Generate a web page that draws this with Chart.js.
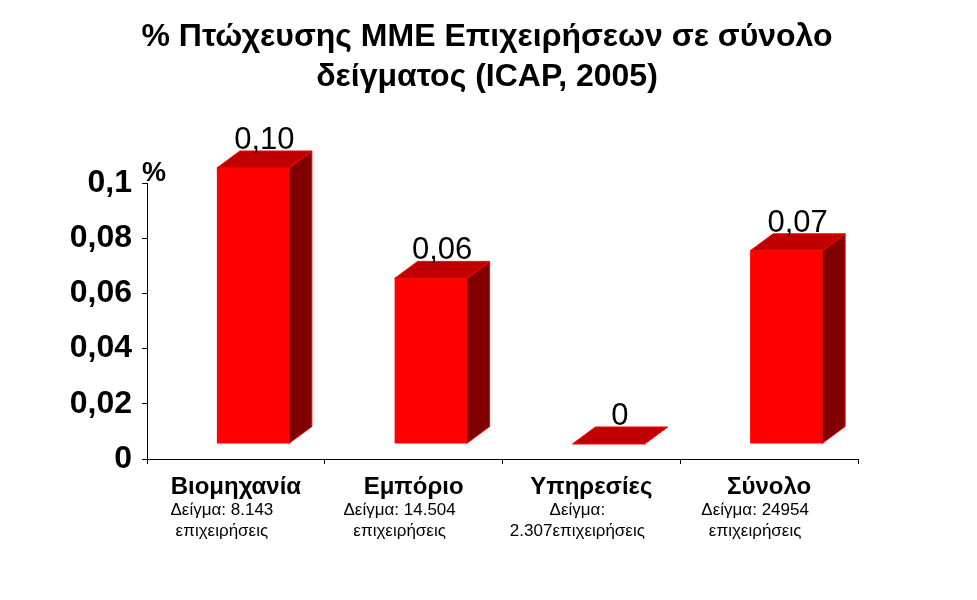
<!DOCTYPE html>
<html>
<head>
<meta charset="utf-8">
<script src="https://cdn.jsdelivr.net/npm/chart.js@4/dist/chart.umd.min.js"></script>
<style>
  html, body { margin: 0; padding: 0; background: #fff; }
  canvas { display: block; }
</style>
</head>
<body>
<canvas id="chart" width="977" height="600"></canvas>
<script>
// data
const categories = ['Βιομηχανία', 'Εμπόριο', 'Υπηρεσίες', 'Σύνολο'];
const sampleLines = [
  ['Δείγμα: 8.143', 'επιχειρήσεις'],
  ['Δείγμα: 14.504', 'επιχειρήσεις'],
  ['Δείγμα:', '2.307επιχειρήσεις'],
  ['Δείγμα: 24954', 'επιχειρήσεις']
];
const values = [0.10, 0.06, 0, 0.07];
const valueLabels = ['0,10', '0,06', '0', '0,07'];
const titleLines = ['% Πτώχευσης ΜΜΕ Επιχειρήσεων σε σύνολο', 'δείγματος (ICAP, 2005)'];

const FONT = '"Liberation Sans", Arial, sans-serif';

// fake 3d look: front face shifted, plus depth
const SHIFT_X = 17, SHIFT_Y = 15;
const DEPTH_X = 23, DEPTH_Y = 17;

const bars3d = {
  id: 'bars3d',
  afterDatasetsDraw(chart) {
    const ctx = chart.ctx;
    const meta = chart.getDatasetMeta(0);
    ctx.save();
    meta.data.forEach((bar, i) => {
      const p = bar.getProps(['x', 'y', 'base', 'width'], true);
      const l = p.x - p.width / 2 + SHIFT_X;
      const r = l + p.width;
      const t = p.y - SHIFT_Y;
      const b = p.base - SHIFT_Y;

      // front
      ctx.fillStyle = '#ff0000';
      ctx.fillRect(l, t, p.width, b - t);

      ctx.lineWidth = 1;
      ctx.strokeStyle = '#ff0000';
      // side
      ctx.fillStyle = '#800000';
      ctx.beginPath();
      ctx.moveTo(r, t);
      ctx.lineTo(r + DEPTH_X, t - DEPTH_Y);
      ctx.lineTo(r + DEPTH_X, b - DEPTH_Y);
      ctx.lineTo(r, b);
      ctx.closePath();
      ctx.fill();
      ctx.stroke();
      // top
      ctx.fillStyle = '#c00000';
      ctx.beginPath();
      ctx.moveTo(l, t);
      ctx.lineTo(l + DEPTH_X, t - DEPTH_Y);
      ctx.lineTo(r + DEPTH_X, t - DEPTH_Y);
      ctx.lineTo(r, t);
      ctx.closePath();
      ctx.fill();
      ctx.stroke();

      // value label
      ctx.fillStyle = '#000';
      ctx.font = '31px ' + FONT;
      ctx.textAlign = 'center';
      ctx.textBaseline = 'alphabetic';
      ctx.fillText(valueLabels[i], (l + r) / 2 + DEPTH_X / 2, t - DEPTH_Y - 2);
    });
    ctx.restore();
  },
  afterDraw(chart) {
    const ctx = chart.ctx;
    const xs = chart.scales.x;
    const ys = chart.scales.y;
    ctx.save();
    ctx.fillStyle = '#000';

    // title, centred on the page
    ctx.font = 'bold 32px ' + FONT;
    ctx.textAlign = 'center';
    ctx.textBaseline = 'alphabetic';
    titleLines.forEach((line, j) => {
      ctx.fillText(line, 487, 46 + j * 40);
    });

    // sample sizes under the category names
    ctx.font = '17px ' + FONT;
    ctx.textBaseline = 'middle';
    categories.forEach((c, i) => {
      const cx = xs.getPixelForValue(i) - 14;
      sampleLines[i].forEach((line, j) => {
        ctx.fillText(line, cx, 510 + j * 21);
      });
    });

    // % sign at top of the value axis
    ctx.font = 'bold 27px ' + FONT;
    ctx.textAlign = 'left';
    ctx.textBaseline = 'alphabetic';
    ctx.fillText('%', ys.right - 5, ys.getPixelForValue(0.1) - 2);
    ctx.restore();
  }
};

new Chart(document.getElementById('chart'), {
  type: 'bar',
  data: {
    labels: categories,
    datasets: [{
      data: values,
      backgroundColor: 'rgba(0,0,0,0)',
      borderWidth: 0,
      barThickness: 72
    }]
  },
  options: {
    responsive: false,
    animation: false,
    layout: { padding: { left: 0, right: 119, top: 183, bottom: 0 } },
    plugins: {
      legend: { display: false },
      tooltip: { enabled: false },
      title: { display: false }
    },
    scales: {
      x: {
        grid: { drawOnChartArea: false, drawTicks: true, tickLength: 5, color: '#000' },
        border: { color: '#000', width: 1 },
        ticks: {
          color: '#000',
          font: { family: FONT, size: 24, weight: 'bold' },
          padding: 9,
          maxRotation: 0
        },
        afterFit(scale) { scale.height = 141; }
      },
      y: {
        min: 0,
        max: 0.1,
        grid: { drawOnChartArea: false, drawTicks: true, tickLength: 5, color: '#000' },
        border: { color: '#000', width: 1 },
        ticks: {
          stepSize: 0.02,
          color: '#000',
          padding: 10,
          font: { family: FONT, size: 32, weight: 'bold' },
          callback: (v) => String(Math.round(v * 100) / 100).replace('.', ',')
        },
        afterFit(scale) { scale.width = 147; }
      }
    }
  },
  plugins: [bars3d]
});
</script>
</body>
</html>
